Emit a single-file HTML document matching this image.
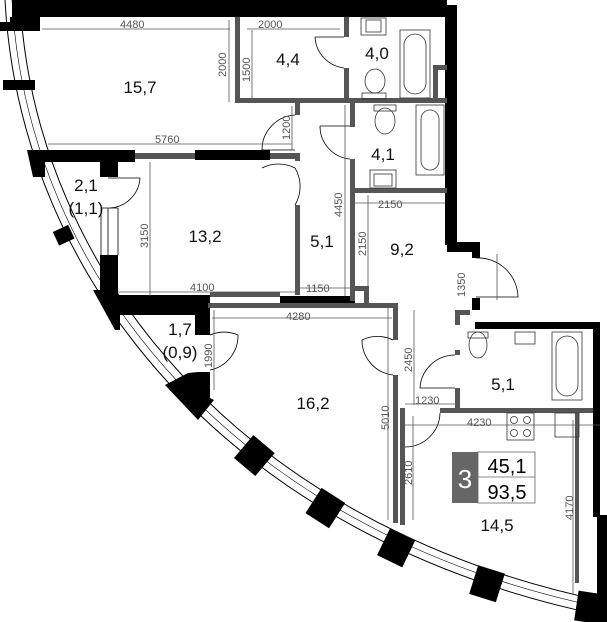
<!DOCTYPE html>
<html><head><meta charset="utf-8"><style>
html,body{margin:0;padding:0;background:#fff;}
svg{display:block;}
.d{font-family:"Liberation Sans",sans-serif;font-size:11px;fill:#555;}
.r{font-family:"Liberation Sans",sans-serif;font-size:17px;fill:#111;}
</style></head><body>
<svg width="607" height="622" viewBox="0 0 607 622" xmlns="http://www.w3.org/2000/svg">
<!-- facade arc -->
<path d="M5 0 C20 280 230 540 605 616" fill="none" stroke="#000" stroke-width="1"/>
<path d="M20 0 C34 272 242 526 603 601" fill="none" stroke="#000" stroke-width="1"/>
<path d="M12 0 C27 276 236 533 604 608" fill="none" stroke="#000" stroke-width="0.6"/>
<g transform="translate(690,-60)" fill="#000">
<rect x="660" y="-14" width="30" height="28" transform="rotate(130.2)"/>
<rect x="660" y="-14" width="30" height="28" transform="rotate(122.7)"/>
<rect x="660" y="-14" width="30" height="28" transform="rotate(115.8)"/>
<rect x="660" y="-14" width="30" height="28" transform="rotate(107.5)"/>
<rect x="660" y="-14" width="30" height="28" transform="rotate(98.5)"/>
</g>
<!-- exterior black walls -->
<g fill="#000">
<rect x="12" y="0" width="435" height="17"/>
<rect x="0" y="22" width="40" height="9"/>
<rect x="10" y="17" width="30" height="14"/>
<rect x="3" y="80" width="32" height="10"/>
<polygon points="27,150 135,150 135,162 45,162 45,177 33,177"/>
<rect x="55" y="228" width="17" height="15" transform="rotate(-25 63 235)"/>
<rect x="445" y="5" width="12" height="240"/>
<rect x="447" y="242" width="33" height="10"/>
<rect x="472" y="252" width="8" height="6"/>
<rect x="472" y="298" width="8" height="12"/>
<rect x="475" y="322" width="125" height="7"/>
<rect x="593" y="322" width="7" height="195"/>
<rect x="597" y="515" width="10" height="107"/>
<rect x="100" y="160" width="18" height="17"/>
<rect x="195" y="150" width="75" height="10"/>
<rect x="100" y="255" width="18" height="40"/>
<polygon points="93,290 100,290 100,295 210,295 210,315 120,315 120,330 115,330"/>
<rect x="280" y="296" width="75" height="10"/>
<rect x="195" y="298" width="15" height="37"/>
<polygon points="165,385 188,373 198,372 210,372 210,398 214,400 198,420"/>
</g>
<!-- interior grey walls -->
<g fill="#555">
<rect x="235" y="17" width="5" height="86"/>
<rect x="235" y="98" width="212" height="5"/>
<rect x="344" y="17" width="5" height="20"/>
<rect x="344" y="68" width="5" height="32"/>
<rect x="350" y="103" width="5" height="24"/>
<rect x="350" y="159" width="5" height="142"/>
<rect x="355" y="188" width="92" height="5"/>
<rect x="433" y="65" width="14" height="5"/>
<rect x="433" y="65" width="5" height="33"/>
<rect x="135" y="153" width="60" height="6"/>
<rect x="270" y="153" width="30" height="6"/>
<rect x="295" y="103" width="5" height="12"/>
<rect x="295" y="153" width="5" height="8"/>
<rect x="295" y="205" width="5" height="90"/>
<rect x="210" y="292" width="70" height="5"/>
<rect x="208" y="303" width="190" height="5"/>
<rect x="393" y="303" width="5" height="37"/>
<rect x="393" y="375" width="5" height="148"/>
<rect x="355" y="286" width="14" height="5"/>
<rect x="364" y="286" width="5" height="18"/>
<rect x="455" y="310" width="5" height="15"/>
<rect x="455" y="310" width="15" height="5"/>
<rect x="455" y="350" width="5" height="5"/>
<rect x="455" y="388" width="5" height="25"/>
<rect x="440" y="408" width="153" height="5"/>
<rect x="400" y="408" width="5" height="5"/>
<rect x="400" y="410" width="5" height="115"/>
<rect x="575" y="413" width="4" height="170"/>
</g>
<!-- doors -->
<g fill="none" stroke="#000" stroke-width="0.8">
<path d="M315 37 A33 33 0 0 0 344 68 M315 37 H344"/>
<path d="M320 126 A33 33 0 0 0 350 159 M320 126 H350"/>
<path d="M295 115 A35 35 0 0 0 262 150 H295"/>
<path d="M295 168 A36 36 0 0 0 262 168 M295 168 A36 36 0 0 1 295 205"/>
<path d="M108 178 H140 A32 32 0 0 1 110 208"/>
<path d="M210 335 A35 35 0 0 1 238 335 A35 35 0 0 1 210 370"/>
<path d="M393 340 A35 35 0 0 0 362 340 A35 35 0 0 0 393 375"/>
<path d="M455 355 A35 35 0 0 0 420 388 H455"/>
<path d="M440 413 A35 35 0 0 1 405 447"/>
<path d="M476 258 A40 40 0 0 1 518 297 H476"/>
<path d="M101 208 V255 M108 208 V255 M118 208 V255 M101 208 H118"/>
</g>
<!-- fixtures -->
<g fill="none" stroke="#333" stroke-width="0.8">
<rect x="361" y="18" width="25" height="17"/><rect x="366" y="20" width="15" height="12"/>
<rect x="400" y="30" width="30" height="68"/><rect x="404" y="34" width="22" height="60" rx="11"/>
<ellipse cx="375" cy="81" rx="10" ry="12"/><rect x="362" y="93" width="24" height="6"/>
<rect x="374" y="105" width="22" height="6"/><ellipse cx="385" cy="121" rx="10" ry="13"/>
<rect x="416" y="105" width="28" height="70"/><rect x="421" y="110" width="18" height="60" rx="9"/>
<rect x="370" y="170" width="26" height="18"/><rect x="374" y="174" width="18" height="12"/>
<ellipse cx="478" cy="345" rx="9" ry="13"/><rect x="468" y="332" width="20" height="6"/>
<rect x="515" y="332" width="20" height="12"/>
<rect x="552" y="332" width="30" height="68"/><rect x="556" y="336" width="22" height="60" rx="11"/>
<rect x="507" y="413" width="27" height="27"/>
<circle cx="514" cy="420" r="3.5"/><circle cx="527" cy="420" r="3.5"/><circle cx="514" cy="433" r="3.5"/><circle cx="527" cy="433" r="3.5"/>
<rect x="555" y="413" width="24" height="24"/>
</g>
<!-- dimension lines -->
<g stroke="#555" stroke-width="0.8" fill="none">
<path d="M42 29 H230 M247 29 H340 M229 20 V102 M252 30 V100 M48 144 H292 M292 106 V150 M150 162 V296 M118 292 H295 M345 105 V296 M300 288 H355 M355 203 H445 M368 195 V286 M212 318 H392 M214 310 V390 M414 310 V405 M405 404 H455 M405 425 H600 M413 416 V520 M388 308 V520 M497 254 V300 M573 420 V595"/>
</g>
<text class="d" x="120" y="28">4480</text>
<text class="d" x="258" y="28">2000</text>
<text class="d" x="155" y="143">5760</text>
<text class="d" x="190" y="291">4100</text>
<text class="d" x="306" y="292">1150</text>
<text class="d" x="378" y="208">2150</text>
<text class="d" x="286" y="320">4280</text>
<text class="d" x="415" y="404">1230</text>
<text class="d" x="467" y="426">4230</text>
<g class="d">
<text transform="translate(226,77) rotate(-90)">2000</text>
<text transform="translate(250,82) rotate(-90)">1500</text>
<text transform="translate(290,140) rotate(-90)">1200</text>
<text transform="translate(148,248) rotate(-90)">3150</text>
<text transform="translate(342,217) rotate(-90)">4450</text>
<text transform="translate(366,256) rotate(-90)">2150</text>
<text transform="translate(212,368) rotate(-90)">1990</text>
<text transform="translate(412,372) rotate(-90)">2450</text>
<text transform="translate(389,430) rotate(-90)">5010</text>
<text transform="translate(412,485) rotate(-90)">2610</text>
<text transform="translate(465,297) rotate(-90)">1350</text>
<text transform="translate(573,520) rotate(-90)">4170</text>
</g>
<!-- room labels -->
<g class="r" text-anchor="middle">
<text x="140" y="93">15,7</text>
<text x="288" y="65">4,4</text>
<text x="377" y="59">4,0</text>
<text x="383" y="160">4,1</text>
<text x="86" y="191">2,1</text>
<text x="86" y="214">(1,1)</text>
<text x="205" y="242">13,2</text>
<text x="322" y="247">5,1</text>
<text x="402" y="255">9,2</text>
<text x="180" y="335">1,7</text>
<text x="180" y="358">(0,9)</text>
<text x="313" y="409">16,2</text>
<text x="503" y="390">5,1</text>
<text x="497" y="531">14,5</text>
</g>
<!-- info box -->
<rect x="452" y="452" width="26" height="51" fill="#666"/>
<text x="465" y="488" text-anchor="middle" font-family="Liberation Sans,sans-serif" font-size="26" fill="#fff">3</text>
<rect x="478" y="452" width="57" height="51" fill="none" stroke="#666" stroke-width="0.8"/>
<line x1="478" y1="477" x2="535" y2="477" stroke="#666" stroke-width="0.8"/>
<text x="507" y="473" text-anchor="middle" font-family="Liberation Sans,sans-serif" font-size="20" fill="#000">45,1</text>
<text x="507" y="499" text-anchor="middle" font-family="Liberation Sans,sans-serif" font-size="20" fill="#000">93,5</text>
</svg>
</body></html>
